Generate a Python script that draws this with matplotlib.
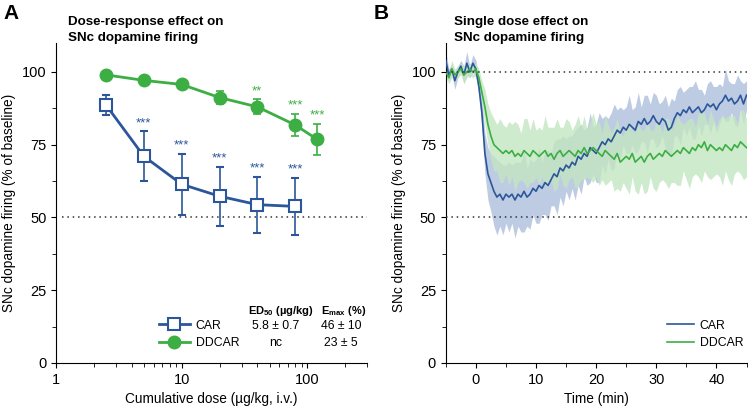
import matplotlib
matplotlib.use('Agg')
import matplotlib.pyplot as plt
import numpy as np
from matplotlib.lines import Line2D
from matplotlib.ticker import MultipleLocator, LogLocator, NullFormatter, FixedLocator

plt.rcParams['font.family'] = ['Liberation Sans', 'DejaVu Sans']
plt.rcParams['mathtext.fontset'] = 'custom'
plt.rcParams['mathtext.rm'] = 'Liberation Sans'
plt.rcParams['mathtext.bf'] = 'Liberation Sans:bold'
plt.rcParams['mathtext.default'] = 'bf'

# colours
car_col = '#2b579a'
dd_col = '#3cae44'
car_light = '#b7c7e0'
dd_light = '#c3e6c1'

# ---- panel A: dose-response ----
car_dose = [2.5, 5, 10, 20, 40, 80]
car_resp = [88.6, 71.0, 61.4, 57.3, 54.4, 53.8]
car_err = [3.4, 8.6, 10.5, 10.2, 9.6, 9.7]
car_stars = ['', '***', '***', '***', '***', '***']

dd_dose = [2.5, 5, 10, 20, 40, 80, 120]
dd_resp = [99.0, 97.1, 95.7, 91.2, 88.0, 81.8, 76.8]
dd_err = [0.8, 0.8, 1.0, 2.2, 2.6, 3.8, 5.3]
dd_stars = ['', '', '', '', '**', '***', '***']

table_rows = [('5.8 ± 0.7', '46 ± 10'), ('nc', '23 ± 5')]

# ---- panel B: time course (sampled every 0.5 min) ----
time_min = np.arange(-5, 45.5, 0.5)
car_mean = [104, 99, 101, 97, 100, 102, 99, 103, 100, 103, 101,
            95, 86, 72, 65, 62, 59, 57, 58, 56, 58,
            57, 58, 56, 58, 57, 59, 57, 58, 60, 59,
            61, 60, 62, 61, 63, 65, 64, 67, 66, 68,
            67, 69, 68, 71, 70, 72, 71, 74, 73, 72,
            74, 76, 75, 77, 76, 78, 80, 79, 81, 80,
            82, 81, 80, 83, 82, 84, 82, 83, 85, 83,
            82, 84, 83, 80, 81, 84, 86, 85, 87, 86,
            88, 86, 87, 88, 86, 87, 89, 88, 89, 87,
            89, 90, 92, 90, 91, 89, 90, 92, 89, 92]
car_sem = [3, 2, 2, 3, 2, 2, 3, 4, 2, 3, 3,
           3, 5, 7, 9, 10, 12, 13, 11, 12, 10,
           12, 10, 13, 11, 12, 14, 10, 12, 9, 11,
           13, 9, 11, 12, 9, 11, 13, 10, 12, 9,
           11, 9, 12, 10, 12, 8, 10, 12, 8, 10,
           12, 8, 10, 7, 10, 11, 7, 9, 6, 8,
           10, 6, 8, 10, 6, 8, 10, 6, 8, 9,
           7, 6, 9, 8, 10, 6, 8, 10, 6, 8,
           7, 9, 10, 6, 8, 5, 7, 9, 6, 8,
           7, 5, 9, 7, 5, 7, 9, 5, 7, 5]
dd_mean = [100, 98, 101, 99, 100, 101, 99, 100, 101, 100, 101,
           98, 93, 88, 82, 78, 75, 74, 73, 72, 73,
           72, 73, 71, 72, 71, 73, 72, 71, 73, 72,
           71, 72, 73, 71, 72, 70, 72, 73, 71, 72,
           73, 72, 71, 73, 72, 74, 72, 73, 74, 73,
           72, 71, 73, 72, 71, 70, 72, 69, 70, 71,
           70, 72, 69, 70, 71, 69, 71, 72, 70, 71,
           72, 71, 73, 72, 71, 72, 73, 72, 74, 73,
           72, 74, 73, 75, 74, 76, 73, 75, 74, 73,
           74, 73, 75, 74, 73, 75, 74, 76, 75, 74]
dd_sem = [2, 2, 3, 2, 2, 2, 3, 2, 2, 2, 2,
          3, 4, 6, 7, 8, 9, 8, 11, 10, 8,
          11, 9, 12, 10, 8, 11, 12, 9, 11, 8,
          10, 8, 12, 10, 9, 11, 12, 8, 10, 12,
          10, 8, 11, 12, 9, 11, 8, 10, 12, 9,
          11, 8, 12, 10, 8, 11, 12, 10, 8, 11,
          12, 8, 10, 12, 9, 11, 12, 8, 10, 12,
          10, 8, 11, 12, 9, 10, 12, 11, 8, 10,
          12, 10, 8, 11, 12, 10, 9, 12, 10, 8,
          10, 12, 9, 11, 12, 10, 8, 11, 12, 10]

fig = plt.figure(figsize=(7.48, 4.12), dpi=100)
axA = fig.add_axes([0.075, 0.119, 0.416, 0.777])
axB = fig.add_axes([0.596, 0.119, 0.402, 0.777])

ylabel = 'SNc dopamine firing (% of baseline)'

for ax in (axA, axB):
    ax.spines['top'].set_visible(False)
    ax.spines['right'].set_visible(False)
    ax.set_ylim(0, 110)
    ax.yaxis.set_major_locator(FixedLocator([0, 25, 50, 75, 100]))
    ax.yaxis.set_minor_locator(FixedLocator([12.5, 37.5, 62.5, 87.5]))
    ax.tick_params(which='both', direction='out', labelsize=10.5)
    ax.tick_params(which='minor', length=3)
    ax.set_ylabel(ylabel, fontsize=9.8)

# panel A
axA.set_xscale('log')
axA.set_xlim(1, 300)
axA.xaxis.set_major_locator(FixedLocator([1, 10, 100]))
axA.xaxis.set_major_formatter(plt.FixedFormatter(['1', '10', '100']))
axA.xaxis.set_minor_locator(LogLocator(base=10, subs=np.arange(2, 10)))
axA.xaxis.set_minor_formatter(NullFormatter())
axA.axhline(50, color='#333333', ls=(0, (1, 2.5)), lw=1.1, xmin=0.02)

axA.errorbar(dd_dose, dd_resp, yerr=dd_err, color=dd_col, lw=2, marker='o', ms=9,
             capsize=3, elinewidth=1.2, capthick=1.2, zorder=3)
axA.errorbar(car_dose, car_resp, yerr=car_err, color=car_col, lw=2, marker='s', ms=8,
             mfc='white', mec=car_col, mew=1.5, capsize=3, elinewidth=1.2, capthick=1.2,
             zorder=4)
for d, r, e, s in zip(car_dose, car_resp, car_err, car_stars):
    if s:
        axA.text(d, r + e + 0.8, s, color=car_col, ha='center', va='bottom', fontsize=9.5)
for d, r, e, s in zip(dd_dose, dd_resp, dd_err, dd_stars):
    if s:
        axA.text(d, r + e + 0.8, s, color=dd_col, ha='center', va='bottom', fontsize=9.5)

leg_handles = [Line2D([], [], color=car_col, lw=2, marker='s', ms=8, mfc='white',
                      mec=car_col, mew=1.5),
               Line2D([], [], color=dd_col, lw=2, marker='o', ms=9)]
axA.legend(leg_handles, ['CAR', 'DDCAR'], loc='center left', bbox_to_anchor=(0.315, 0.089),
           frameon=False, fontsize=8.8, handlelength=2.5, labelspacing=0.45,
           handletextpad=0.5, borderaxespad=0)
axA.text(0.722, 0.163, 'ED$_{50}$ (µg/kg)', transform=axA.transAxes, ha='center',
         va='center', fontsize=8.0, fontweight='bold')
axA.text(0.925, 0.163, 'E$_{max}$ (%)', transform=axA.transAxes, ha='center',
         va='center', fontsize=8.0, fontweight='bold')
for i, (ed, em) in enumerate(table_rows):
    yy = 0.114 - i * 0.051
    axA.text(0.704, yy, ed, transform=axA.transAxes, ha='center', va='center', fontsize=8.8)
    axA.text(0.916, yy, em, transform=axA.transAxes, ha='center', va='center', fontsize=8.8)
axA.set_xlabel('Cumulative dose (µg/kg, i.v.)', fontsize=9.8)

# panel B
car_mean = np.array(car_mean, dtype=float)
car_sem = np.array(car_sem, dtype=float)
dd_mean = np.array(dd_mean, dtype=float)
dd_sem = np.array(dd_sem, dtype=float)
axB.set_xlim(-5, 45)
axB.xaxis.set_major_locator(MultipleLocator(10))
axB.xaxis.set_minor_locator(MultipleLocator(5))
axB.axhline(100, color='#333333', ls=(0, (1, 2.5)), lw=1.1, zorder=5)
axB.axhline(50, color='#333333', ls=(0, (1, 2.5)), lw=1.1, zorder=5)
axB.fill_between(time_min, car_mean - car_sem, car_mean + car_sem, color=car_light,
                 lw=0, alpha=0.9, zorder=1)
axB.fill_between(time_min, dd_mean - dd_sem, dd_mean + dd_sem, color=dd_light,
                 lw=0, alpha=0.8, zorder=2)
axB.plot(time_min, car_mean, color=car_col, lw=1.2, label='CAR', zorder=3)
axB.plot(time_min, dd_mean, color=dd_col, lw=1.2, label='DDCAR', zorder=3)
axB.legend(loc='center right', bbox_to_anchor=(1.005, 0.089), frameon=False, fontsize=8.8,
           handlelength=2.2, labelspacing=0.45, handletextpad=0.5, borderaxespad=0)
axB.set_xlabel('Time (min)', fontsize=9.8)

# titles and panel letters
fig.text(0.091, 0.96, 'Dose-response effect on\nSNc dopamine firing', fontsize=9.6,
         fontweight='bold', va='top', ha='left', linespacing=1.4)
fig.text(0.607, 0.96, 'Single dose effect on\nSNc dopamine firing', fontsize=9.6,
         fontweight='bold', va='top', ha='left', linespacing=1.4)
fig.text(0.005, 0.99, 'A', fontsize=15, fontweight='bold', va='top')
fig.text(0.5, 0.99, 'B', fontsize=15, fontweight='bold', va='top')

fig.savefig('out.png', dpi=100)
